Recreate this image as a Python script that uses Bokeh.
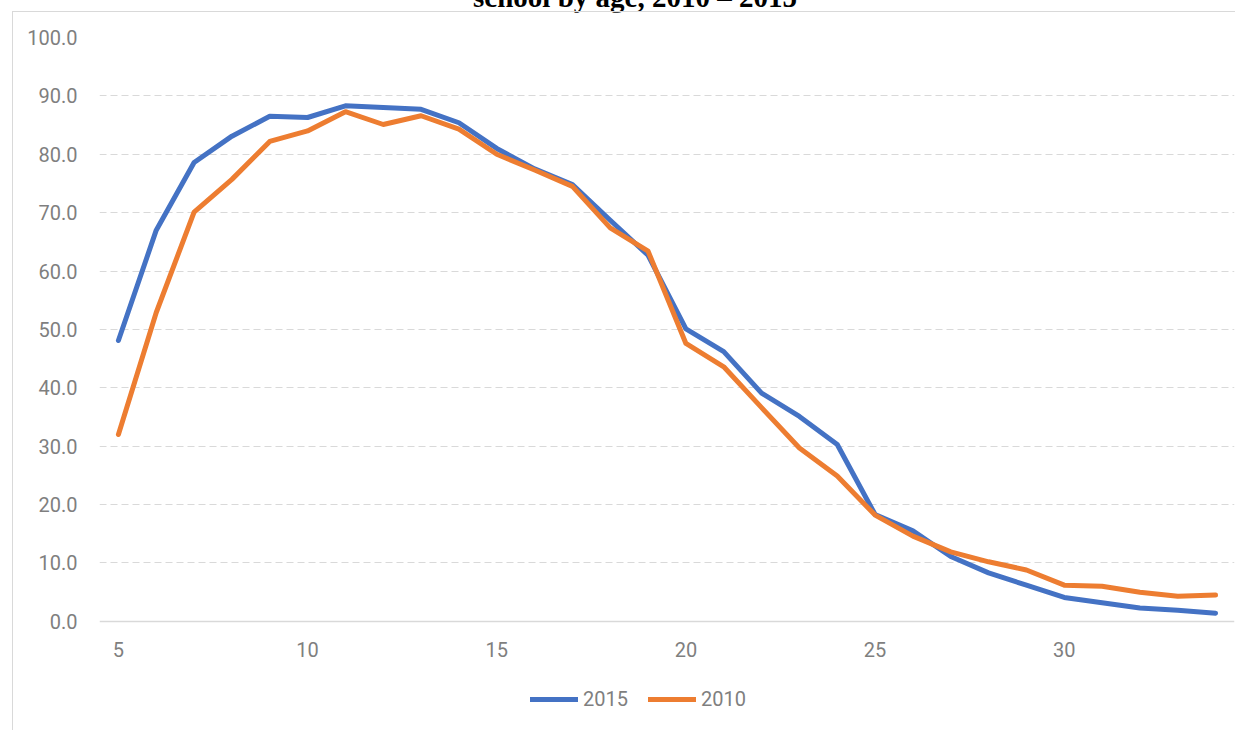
from bokeh.plotting import figure
from bokeh.models import (ColumnDataSource, FixedTicker, Legend, LegendItem, Div,
                          NumeralTickFormatter, Range1d)
from bokeh.layouts import column
from bokeh.embed import file_html
from bokeh.resources import INLINE

# ---- data ----
ages = list(range(5, 35))
pct_2015 = [48.1, 67.0, 78.6, 83.1, 86.5, 86.3, 88.3, 88.0, 87.7, 85.4,
            81.0, 77.5, 74.8, 68.7, 62.7, 50.1, 46.2, 39.1, 35.1, 30.3,
            18.3, 15.5, 11.1, 8.3, 6.2, 4.1, 3.2, 2.3, 1.9, 1.4]
pct_2010 = [32.0, 52.9, 70.1, 75.7, 82.2, 84.0, 87.3, 85.1, 86.6, 84.3,
            80.0, 77.3, 74.5, 67.4, 63.4, 47.6, 43.6, 36.6, 29.7, 24.9,
            18.2, 14.6, 11.9, 10.2, 8.8, 6.2, 6.0, 5.0, 4.3, 4.5]
series_names = ["2015", "2010"]
x_tick_labels = [5, 10, 15, 20, 25, 30]
y_ticks = [0, 10, 20, 30, 40, 50, 60, 70, 80, 90, 100]
title_visible = "school by age, 2010 \u2013 2015"

FONT = "Roboto"
GRAY = "#7f7f7f"
BLUE = "#4472C4"
ORANGE = "#ED7D31"

# plot area: value axis 0..100 over 583 px, plus room below 0 for the legend
VALUE_PX = 583
EXTRA_PX = 100
y_start = -100.0 * EXTRA_PX / VALUE_PX

src = ColumnDataSource(dict(age=ages, s2015=pct_2015, s2010=pct_2010))

p = figure(frame_width=1134, frame_height=VALUE_PX + EXTRA_PX,
           x_range=Range1d(4.5, 34.5), y_range=Range1d(y_start, 100),
           output_backend="svg", toolbar_location=None,
           min_border_left=86, min_border_right=2,
           min_border_top=25, min_border_bottom=10)
p.outline_line_color = None
p.background_fill_color = "white"
p.border_fill_color = "white"

p.xgrid.visible = False
p.ygrid.ticker = FixedTicker(ticks=y_ticks[1:])
p.ygrid.grid_line_color = "#d9d9d9"
p.ygrid.grid_line_dash = "7 4"
p.ygrid.grid_line_width = 1

p.yaxis.ticker = FixedTicker(ticks=y_ticks)
p.yaxis.formatter = NumeralTickFormatter(format="0.0")
p.yaxis.axis_line_color = None
p.yaxis.major_tick_line_color = None
p.yaxis.minor_tick_line_color = None
p.yaxis.major_label_standoff = 16
p.yaxis.major_label_text_font = FONT
p.yaxis.major_label_text_font_size = "20px"
p.yaxis.major_label_text_color = GRAY

p.xaxis.fixed_location = 0
p.xaxis.ticker = FixedTicker(ticks=x_tick_labels)
p.xaxis.axis_line_color = "#d9d9d9"
p.xaxis.axis_line_width = 1.5
p.xaxis.major_tick_line_color = None
p.xaxis.minor_tick_line_color = None
p.xaxis.major_label_standoff = 15
p.xaxis.major_label_text_font = FONT
p.xaxis.major_label_text_font_size = "20px"
p.xaxis.major_label_text_color = GRAY

r15 = p.line("age", "s2015", source=src, line_color=BLUE, line_width=5,
             line_cap="round", line_join="round")
r10 = p.line("age", "s2010", source=src, line_color=ORANGE, line_width=5,
             line_cap="round", line_join="round")

legend = Legend(items=[LegendItem(label=series_names[0], renderers=[r15]),
                       LegendItem(label=series_names[1], renderers=[r10])],
                orientation="horizontal", location=(431, 10),
                glyph_width=48, glyph_height=24, label_height=24,
                label_standoff=5, spacing=20, padding=0, margin=0,
                border_line_color=None, background_fill_alpha=0,
                label_text_font=FONT, label_text_font_size="20px",
                label_text_color=GRAY)
p.add_layout(legend, "center")

p.margin = (11, 0, 0, 12)
p.styles = {"border-left": "1px solid #d9d9d9", "border-top": "1px solid #d9d9d9"}

title = Div(text=('<div style="font-family:\'Liberation Serif\'; font-weight:bold; '
                  'font-size:29px; line-height:29px; white-space:nowrap; '
                  'text-align:center; width:1248px; box-sizing:border-box; '
                  'padding-left:22px; color:#000;">' + title_visible + '</div>'),
            width=1248, height=17, margin=(-17, 0, 0, 0),
            styles={"overflow": "visible"})

layout = column(title, p, spacing=0)

open("out.html", "w").write(file_html(layout, INLINE))
